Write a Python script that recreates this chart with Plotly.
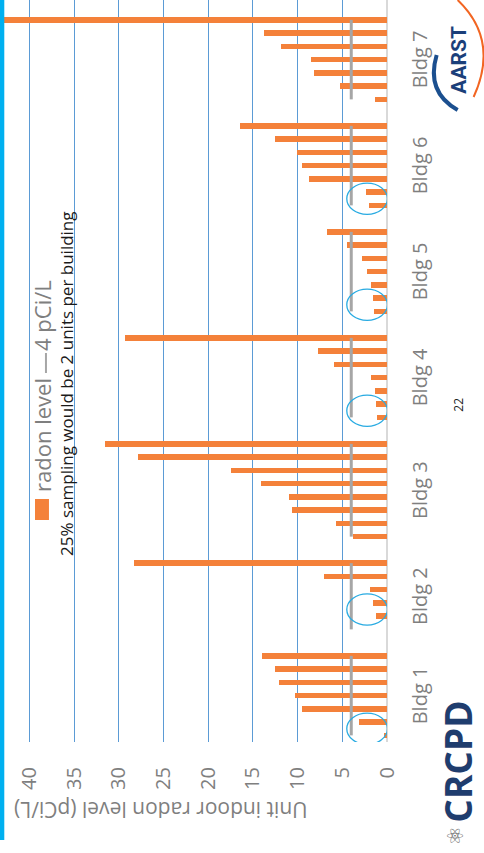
import plotly.graph_objects as go

# ---------------- data ----------------
buildings = ["Bldg 1", "Bldg 2", "Bldg 3", "Bldg 4", "Bldg 5", "Bldg 6", "Bldg 7"]
bldg1 = [0.3, 3.1, 9.5, 10.3, 12.1, 12.5, 14.0]
bldg2 = [0.0, 1.2, 1.6, 1.9, 7.1, 28.3]
bldg3 = [3.8, 5.7, 10.6, 11.0, 14.1, 17.5, 27.9, 31.6]
bldg4 = [1.1, 1.2, 1.3, 1.8, 5.9, 7.7, 29.3]
bldg5 = [1.4, 1.6, 1.8, 2.2, 2.8, 4.5, 6.7]
bldg6 = [2.0, 2.3, 8.7, 9.5, 10.1, 12.5, 16.5]
bldg7 = [1.3, 5.3, 8.2, 8.5, 11.9, 13.8, 47.0]
action_level = 4  # pCi/L
# index (within each building) of the first of the two circled (sampled) units
circled_start = [0, 1, None, 0, 0, 0, None]
value_ticks = [0, 5, 10, 15, 20, 25, 30, 35, 40]

groups = [bldg1, bldg2, bldg3, bldg4, bldg5, bldg6, bldg7]

# ---------------- build rows ----------------
bar_x, bar_y = [], []
line_x, line_y = [], []
centers, starts = [], []
row = 0
for g in groups:
    start = row
    starts.append(start)
    for v in g:
        bar_x.append(v)
        bar_y.append(row)
        row += 1
    line_x += [action_level, action_level, None]
    line_y += [start, row - 1, None]
    centers.append((start + row - 1) / 2)
    row += 1  # blank separator row

ORANGE = "#F4813A"
GRAY_LINE = "#a6a6a6"
TXT_GRAY = "#7f7f7f"
FONT = "Open Sans"

PW, PH = 387.3, 742.0
def px(x):
    return x / PW
def py(y):
    return (PH - y) / PH

fig = go.Figure()
fig.add_trace(go.Bar(x=bar_x, y=bar_y, orientation="h", width=0.42,
                     marker=dict(color=ORANGE, line=dict(width=0)),
                     name="radon level", showlegend=False))
fig.add_trace(go.Scatter(x=line_x, y=line_y, mode="lines",
                         line=dict(color=GRAY_LINE, width=3),
                         name="4 pCi/L", showlegend=False))

shapes = []
# circles around sampled units
for s, c in zip(starts, circled_start):
    if c is None:
        continue
    cy = s + c + 0.5
    shapes.append(dict(type="circle", xref="x", yref="y",
                       x0=4.5, x1=-0.05, y0=cy - 1.18, y1=cy + 1.18,
                       line=dict(color="#29abe2", width=1.3)))
# cyan slide stripe
shapes.append(dict(type="rect", xref="paper", yref="paper", layer="above",
                   x0=px(0), x1=px(4.3), y0=py(840), y1=py(0),
                   fillcolor="#00b0f0", line=dict(width=0)))
# legend key: orange square
shapes.append(dict(type="rect", xref="paper", yref="paper", layer="above",
                   x0=px(35), x1=px(49), y0=py(520), y1=py(499),
                   fillcolor=ORANGE, line=dict(width=0)))
# legend key: gray line
shapes.append(dict(type="line", xref="paper", yref="paper", layer="above",
                   x0=px(46), x1=px(46), y0=py(373), y1=py(353),
                   line=dict(color=GRAY_LINE, width=2)))
# AARST swooshes
def path(pts):
    d = "M %f,%f" % (px(pts[0][0]), py(pts[0][1]))
    d += " Q %f,%f %f,%f" % (px(pts[1][0]), py(pts[1][1]), px(pts[2][0]), py(pts[2][1]))
    return d
shapes.append(dict(type="path", xref="paper", yref="paper", layer="above",
                   path=path([(437, 55), (426, 92), (458, 110)]),
                   line=dict(color="#1b4f8f", width=4)))
shapes.append(dict(type="path", xref="paper", yref="paper", layer="above",
                   path=path([(458, 0), (500, 40), (474, 97)]),
                   line=dict(color="#f26522", width=2)))

annotations = []
for name, c in zip(buildings, centers):
    annotations.append(dict(text=name, xref="paper", yref="y", x=px(420), y=c,
                            textangle=-90, showarrow=False, xanchor="center",
                            yanchor="middle",
                            font=dict(family=FONT, size=20, color=TXT_GRAY)))
# axis title (upside down)
annotations.append(dict(text="Unit indoor radon level (pCi/L)", xref="paper", yref="paper",
                        x=px(310), y=py(810), textangle=180, showarrow=False,
                        xanchor="right", yanchor="middle",
                        font=dict(family=FONT, size=21, color=TXT_GRAY)))
# legend texts
annotations.append(dict(text="radon level", xref="paper", yref="paper",
                        x=px(42), y=py(435), textangle=-90, showarrow=False,
                        xanchor="center", yanchor="middle",
                        font=dict(family=FONT, size=22, color=TXT_GRAY)))
annotations.append(dict(text="4 pCi/L", xref="paper", yref="paper",
                        x=px(42), y=py(315), textangle=-90, showarrow=False,
                        xanchor="center", yanchor="middle",
                        font=dict(family=FONT, size=22, color=TXT_GRAY)))
annotations.append(dict(text="25% sampling would be 2 units per building", xref="paper",
                        yref="paper", x=px(67), y=py(384), textangle=-90, showarrow=False,
                        xanchor="center", yanchor="middle",
                        font=dict(family=FONT, size=17, color="#1a1a1a")))
# slide number
annotations.append(dict(text="22", xref="paper", yref="paper", x=px(458), y=py(405),
                        textangle=-90, showarrow=False, xanchor="center", yanchor="middle",
                        font=dict(family=FONT, size=12, color="#222222")))
# logos
annotations.append(dict(text="<b>AARST</b>", xref="paper", yref="paper", x=px(459), y=py(60),
                        textangle=-90, showarrow=False, xanchor="center", yanchor="middle",
                        font=dict(family="Roboto", size=21, color="#1b3f7a")))
annotations.append(dict(text="<b>CRCPD</b>", xref="paper", yref="paper", x=px(457), y=py(762),
                        textangle=-90, showarrow=False, xanchor="center", yanchor="middle",
                        font=dict(family=FONT, size=37, color="#1f3d6e")))
annotations.append(dict(text="⚛", xref="paper", yref="paper", x=px(456), y=py(836),
                        textangle=-90, showarrow=False, xanchor="center", yanchor="middle",
                        font=dict(family="DejaVu Sans", size=22, color="#6b6b6b")))

fig.update_layout(
    width=484, height=853,
    margin=dict(l=0, r=484 - PW, t=0, b=853 - PH, pad=0),
    paper_bgcolor="white", plot_bgcolor="white",
    bargap=0, showlegend=False,
    xaxis=dict(range=[43.3, 0], tickvals=value_ticks, ticktext=[str(v) for v in value_ticks],
               tickangle=-90, showgrid=True, gridcolor="#5b9bd5", gridwidth=1,
               zeroline=True, zerolinecolor="#d9d9d9", zerolinewidth=1.5,
               ticks="", ticklabelstandoff=20, showline=False,
               tickfont=dict(family=FONT, size=20, color=TXT_GRAY)),
    yaxis=dict(range=[-0.5, 55.5], showgrid=False, zeroline=False,
               showticklabels=False, showline=False),
    shapes=shapes, annotations=annotations,
)

fig.write_html("out.html")
